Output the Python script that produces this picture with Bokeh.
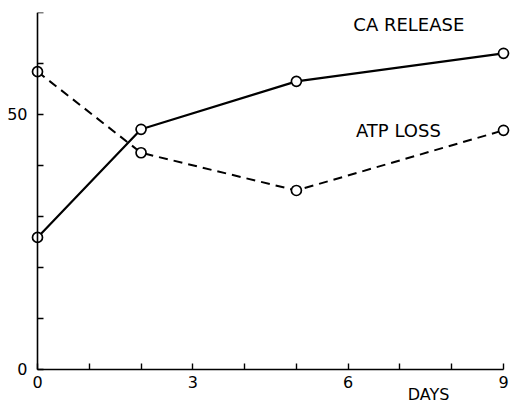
from bokeh.plotting import figure
from bokeh.models import Range1d, FixedTicker, Label, ColumnDataSource
from bokeh.embed import file_html
from bokeh.resources import INLINE

days = [0, 2, 5, 9]
ca_release = [25.9, 47.1, 56.5, 62.0]
atp_loss = [58.4, 42.5, 35.1, 46.9]
x_ticks = list(range(0, 10))
y_ticks = list(range(0, 80, 10))
x_tick_labels = {0: "0", 3: "3", 6: "6", 9: "9"}
y_tick_labels = {0: "0", 50: "50"}

FONT = "DejaVu Sans"

p = figure(width=510, height=403, output_backend="svg", toolbar_location=None,
           x_range=Range1d(-0.7146, 9.135), y_range=Range1d(-6.67, 70),
           min_border_left=0, min_border_right=0, min_border_top=12, min_border_bottom=0)
p.outline_line_color = None
p.xgrid.visible = False
p.ygrid.visible = False
p.background_fill_color = "white"
p.border_fill_color = "white"

for ax, ticks, labels in ((p.xaxis[0], x_ticks, x_tick_labels), (p.yaxis[0], y_ticks, y_tick_labels)):
    ax.ticker = FixedTicker(ticks=ticks)
    ax.major_label_overrides = {k: v for k, v in labels.items()}
    ax.major_label_overrides.update({t: "" for t in ticks if t not in labels})
    ax.major_tick_in = 6
    ax.major_tick_out = 0
    ax.minor_tick_in = 0
    ax.minor_tick_out = 0
    ax.axis_line_width = 1.6
    ax.major_tick_line_width = 1.4
    ax.axis_line_color = "black"
    ax.major_tick_line_color = "black"
    ax.major_label_text_font = FONT
    ax.major_label_text_font_size = "16px"
    ax.major_label_text_color = "black"

p.xaxis.fixed_location = 0
p.yaxis.fixed_location = 0
p.xaxis.bounds = (0, 9)
p.yaxis.bounds = (0, 70)
p.xaxis.major_label_standoff = 7
p.yaxis.major_label_standoff = 10

src = ColumnDataSource(dict(days=days, ca=ca_release, atp=atp_loss))

p.line("days", "ca", source=src, line_color="black", line_width=2.2)
p.line("days", "atp", source=src, line_color="black", line_width=2.0, line_dash="9 6")
p.scatter("days", "ca", source=src, size=10, fill_color="white", line_color="black", line_width=1.7)
p.scatter("days", "atp", source=src, size=10, fill_color="white", line_color="black", line_width=1.7)

p.add_layout(Label(x=6.1, y=67.7, text="CA RELEASE", text_font=FONT, text_font_size="18px",
                   text_baseline="middle", text_color="black"))
p.add_layout(Label(x=6.15, y=46.9, text="ATP LOSS", text_font=FONT, text_font_size="18px",
                   text_baseline="middle", text_color="black"))
p.add_layout(Label(x=7.15, y=-4.9, text="DAYS", text_font=FONT, text_font_size="16px",
                   text_baseline="middle", text_color="black"))

open("out.html", "w").write(file_html(p, INLINE))
